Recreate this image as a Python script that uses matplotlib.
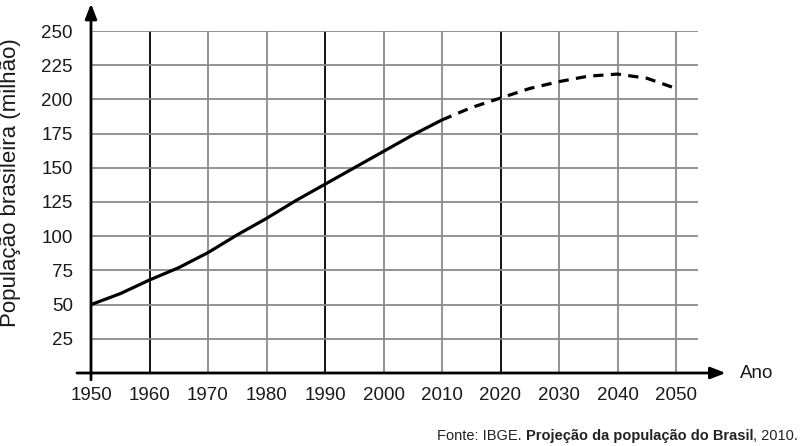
import matplotlib
matplotlib.use("Agg")
import matplotlib.pyplot as plt

# Dados (população em milhões)
anos_censo = [1950, 1955, 1960, 1965, 1970, 1975, 1980, 1985, 1990, 1995, 2000, 2005, 2010]
pop_censo = [50, 58, 68, 77, 88, 101, 113, 126, 138, 150, 162, 174, 185]

anos_proj = [2010, 2015, 2020, 2025, 2030, 2035, 2040, 2045, 2050]
pop_proj = [185, 194, 201, 208, 213, 217, 218.5, 215.5, 208]

x_ticks = list(range(1950, 2051, 10))
y_ticks = list(range(25, 251, 25))
anos_escuros = [1960, 1990, 2020]

plt.rcParams['font.family'] = ['Liberation Sans', 'DejaVu Sans']

fig = plt.figure(figsize=(8, 4.46), dpi=100)
W, H = 800, 446
ax = fig.add_axes([91 / W, 1 - 373 / H, (698 - 91) / W, (373 - 31) / H])
ax.set_xlim(1950, 1950 + (698 - 91) / 5.85)
ax.set_ylim(0, 250)

for s in ax.spines.values():
    s.set_visible(False)

# grade
for x in x_ticks[1:]:
    cor = 'black' if x in anos_escuros else '#8a8a8a'
    ax.axvline(x, color=cor, lw=1.3, zorder=1)
for y in y_ticks:
    ax.axhline(y, color='#8a8a8a', lw=1.3, zorder=1)

ax.set_xticks(x_ticks)
ax.set_yticks(y_ticks)
ax.tick_params(length=0, labelsize=13.5, colors='#1a1a1a')
ax.tick_params(axis='x', pad=10)
ax.tick_params(axis='y', pad=13)

# eixos com setas
ax.annotate('', xy=(1950, 270), xytext=(1950, -5),
            xycoords='data', annotation_clip=False,
            arrowprops=dict(arrowstyle='-|>,head_length=0.9,head_width=0.35',
                            color='black', lw=2, shrinkA=0, shrinkB=0))
ax.annotate('', xy=(2058.5, 0), xytext=(1947.6, 0),
            xycoords='data', annotation_clip=False,
            arrowprops=dict(arrowstyle='-|>,head_length=0.9,head_width=0.35',
                            color='black', lw=2, shrinkA=0, shrinkB=0))

ax.plot(anos_censo, pop_censo, color='black', lw=2.3, zorder=3,
        solid_capstyle='butt')
ax.plot(anos_proj, pop_proj, color='black', lw=2.3, zorder=3,
        linestyle=(0, (3.2, 2.3)))

ax.set_ylabel('População brasileira (milhão)', fontsize=16, color='#1a1a1a')
ax.yaxis.set_label_coords(-70 / 607, 0.558)

fig.text(740 / W, 1 - 374 / H, 'Ano', fontsize=13.5, color='#1a1a1a',
         ha='left', va='center')

# fonte
fig.canvas.draw()
r = fig.canvas.get_renderer()
x0 = 437
yb = 1 - 440 / H
partes = [('Fonte: IBGE. ', 'normal'),
          ('Projeção da população do Brasil', 'bold'),
          (', 2010.', 'normal')]
for txt, peso in partes:
    t = fig.text(x0 / W, yb, txt, fontsize=10.5, fontweight=peso,
                 color='#222222', ha='left', va='baseline')
    bb = t.get_window_extent(renderer=r)
    x0 += bb.width

fig.savefig('out.png', dpi=100)
